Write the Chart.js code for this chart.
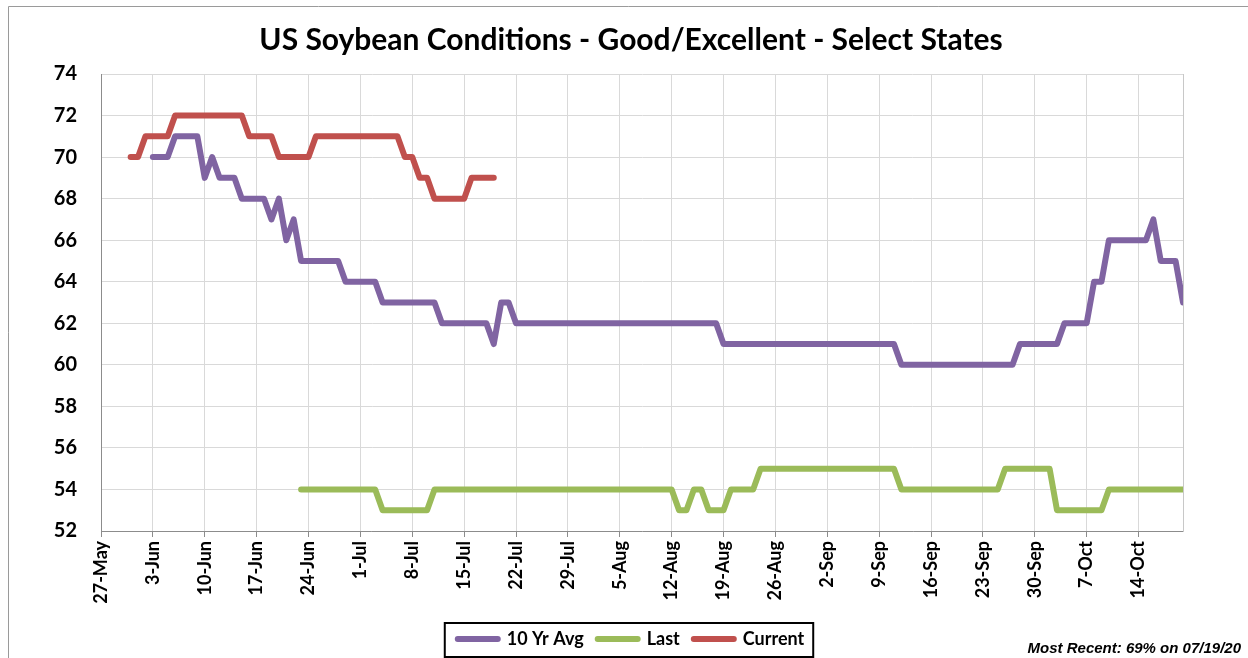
<!DOCTYPE html>
<html>
<head>
<meta charset="utf-8">
<script src="https://cdn.jsdelivr.net/npm/chart.js@4.4.1/dist/chart.umd.min.js"></script>
<style>
  html, body { margin: 0; padding: 0; background: #fff; }
  #wrap { width: 1248px; height: 658px; }
</style>
</head>
<body>
<div id="wrap"><canvas id="chart" width="1248" height="658"></canvas></div>
<script>
// one tick every 7 days, starting 27-May (day 0)
const weekLabels = ['27-May', '3-Jun', '10-Jun', '17-Jun', '24-Jun', '1-Jul', '8-Jul', '15-Jul',
  '22-Jul', '29-Jul', '5-Aug', '12-Aug', '19-Aug', '26-Aug', '2-Sep', '9-Sep', '16-Sep',
  '23-Sep', '30-Sep', '7-Oct', '14-Oct'];

// daily values, one row per week (day 0 = 27-May, last day = 20-Oct)
const avg10 = [
  null, null, null, null, null, null, null,
  70, 70, 70, 71, 71, 71, 71,
  69, 70, 69, 69, 69, 68, 68,
  68, 68, 67, 68, 66, 67, 65,
  65, 65, 65, 65, 65, 64, 64,
  64, 64, 64, 63, 63, 63, 63,
  63, 63, 63, 63, 62, 62, 62,
  62, 62, 62, 62, 61, 63, 63,
  62, 62, 62, 62, 62, 62, 62,
  62, 62, 62, 62, 62, 62, 62,
  62, 62, 62, 62, 62, 62, 62,
  62, 62, 62, 62, 62, 62, 62,
  61, 61, 61, 61, 61, 61, 61,
  61, 61, 61, 61, 61, 61, 61,
  61, 61, 61, 61, 61, 61, 61,
  61, 61, 61, 60, 60, 60, 60,
  60, 60, 60, 60, 60, 60, 60,
  60, 60, 60, 60, 60, 61, 61,
  61, 61, 61, 61, 62, 62, 62,
  62, 64, 64, 66, 66, 66, 66,
  66, 66, 67, 65, 65, 65, 63,
];

const last = [
  null, null, null, null, null, null, null,
  null, null, null, null, null, null, null,
  null, null, null, null, null, null, null,
  null, null, null, null, null, null, 54,
  54, 54, 54, 54, 54, 54, 54,
  54, 54, 54, 53, 53, 53, 53,
  53, 53, 53, 54, 54, 54, 54,
  54, 54, 54, 54, 54, 54, 54,
  54, 54, 54, 54, 54, 54, 54,
  54, 54, 54, 54, 54, 54, 54,
  54, 54, 54, 54, 54, 54, 54,
  54, 53, 53, 54, 54, 53, 53,
  53, 54, 54, 54, 54, 55, 55,
  55, 55, 55, 55, 55, 55, 55,
  55, 55, 55, 55, 55, 55, 55,
  55, 55, 55, 54, 54, 54, 54,
  54, 54, 54, 54, 54, 54, 54,
  54, 54, 54, 55, 55, 55, 55,
  55, 55, 55, 53, 53, 53, 53,
  53, 53, 53, 54, 54, 54, 54,
  54, 54, 54, 54, 54, 54, 54,
];

const current = [
  null, null, null, null, 70, 70, 71,
  71, 71, 71, 72, 72, 72, 72,
  72, 72, 72, 72, 72, 72, 71,
  71, 71, 71, 70, 70, 70, 70,
  70, 71, 71, 71, 71, 71, 71,
  71, 71, 71, 71, 71, 71, 70,
  70, 69, 69, 68, 68, 68, 68,
  68, 69, 69, 69, 69,
];

const seriesNames = ['10 Yr Avg', 'Last', 'Current'];
const seriesColors = ['#8064a2', '#9bbb59', '#c0504d'];
const titleText = 'US Soybean Conditions - Good/Excellent - Select States';
const noteText = 'Most Recent: 69% on 07/19/20';

const lastDay = avg10.length - 1;
const toPoints = arr => arr.map((v, i) => ({ x: i, y: v }));
const tickFont = { family: 'Lato', weight: 'bold', size: 18 };

const line = (i, values, order) => ({
  label: seriesNames[i],
  data: toPoints(values),
  borderColor: seriesColors[i],
  backgroundColor: seriesColors[i],
  borderWidth: 6,
  borderCapStyle: 'round',
  borderJoinStyle: 'round',
  pointRadius: 0,
  tension: 0,
  spanGaps: false,
  order,
});

// frame, legend box, footnote
const decor = {
  id: 'decor',
  beforeDraw(chart) {
    const ctx = chart.ctx;
    ctx.save();
    ctx.strokeStyle = '#9a9a9a';
    ctx.lineWidth = 1;
    ctx.beginPath();
    ctx.moveTo(8.5, 658);
    ctx.lineTo(8.5, 6.5);
    ctx.lineTo(1248, 6.5);
    ctx.stroke();
    ctx.restore();
  },
  afterDraw(chart) {
    const ctx = chart.ctx;
    const lg = chart.legend;
    const hb = lg.legendHitBoxes;
    const l = hb[0].left - 13;
    const r = hb[hb.length - 1].left + hb[hb.length - 1].width + 9;
    ctx.save();
    ctx.strokeStyle = '#000';
    ctx.lineWidth = 2;
    ctx.strokeRect(l, lg.top + 7, r - l, lg.bottom - lg.top - 8);
    ctx.fillStyle = '#000';
    ctx.font = 'italic bold 15px "Liberation Sans", Arial, sans-serif';
    ctx.textAlign = 'right';
    ctx.textBaseline = 'alphabetic';
    ctx.fillText(noteText, 1241, 653);
    ctx.restore();
  },
};

new Chart(document.getElementById('chart'), {
  type: 'line',
  data: {
    datasets: [line(0, avg10, 3), line(1, last, 2), line(2, current, 1)],
  },
  options: {
    responsive: false,
    animation: false,
    layout: { padding: { left: 14, right: 0, top: 0, bottom: 0 } },
    scales: {
      x: {
        type: 'linear',
        min: 0,
        max: lastDay,
        ticks: {
          stepSize: 7,
          autoSkip: false,
          includeBounds: false,
          maxRotation: 90,
          minRotation: 90,
          padding: 4,
          color: '#000',
          font: tickFont,
          callback: v => weekLabels[v / 7] ?? '',
        },
        grid: { color: '#d9d9d9', tickColor: '#8c8c8c', tickLength: 6 },
        border: { color: '#8c8c8c' },
        afterFit: s => { s.height = 85; },
      },
      y: {
        min: 52,
        max: 74,
        ticks: { stepSize: 2, padding: 24, color: '#000', font: { ...tickFont, size: 20 } },
        grid: { color: '#d9d9d9', drawTicks: false },
        border: { color: '#8c8c8c' },
        afterFit: s => { s.width = 87; },
      },
      y2: {
        position: 'right',
        min: 52,
        max: 74,
        ticks: { display: false },
        grid: { drawOnChartArea: false, drawTicks: false },
        border: { color: '#c8c8c8' },
        afterFit: s => { s.width = 65; },
      },
    },
    plugins: {
      title: {
        display: true,
        text: titleText,
        color: '#000',
        font: { family: 'Lato', weight: 'bold', size: 30 },
        padding: { top: 22, bottom: 16 },
      },
      legend: {
        position: 'bottom',
        labels: {
          padding: 14,
          usePointStyle: true,
          pointStyleWidth: 40,
          color: '#000',
          font: { family: 'Lato', weight: 'bold', size: 18 },
          generateLabels: chart => chart.data.datasets.map((ds, i) => ({
            text: ds.label,
            strokeStyle: ds.borderColor,
            fillStyle: ds.borderColor,
            lineWidth: 6,
            lineCap: 'round',
            pointStyle: 'line',
            hidden: false,
            datasetIndex: i,
          })),
        },
      },
      tooltip: { enabled: false },
    },
  },
  plugins: [decor],
});
</script>
</body>
</html>
